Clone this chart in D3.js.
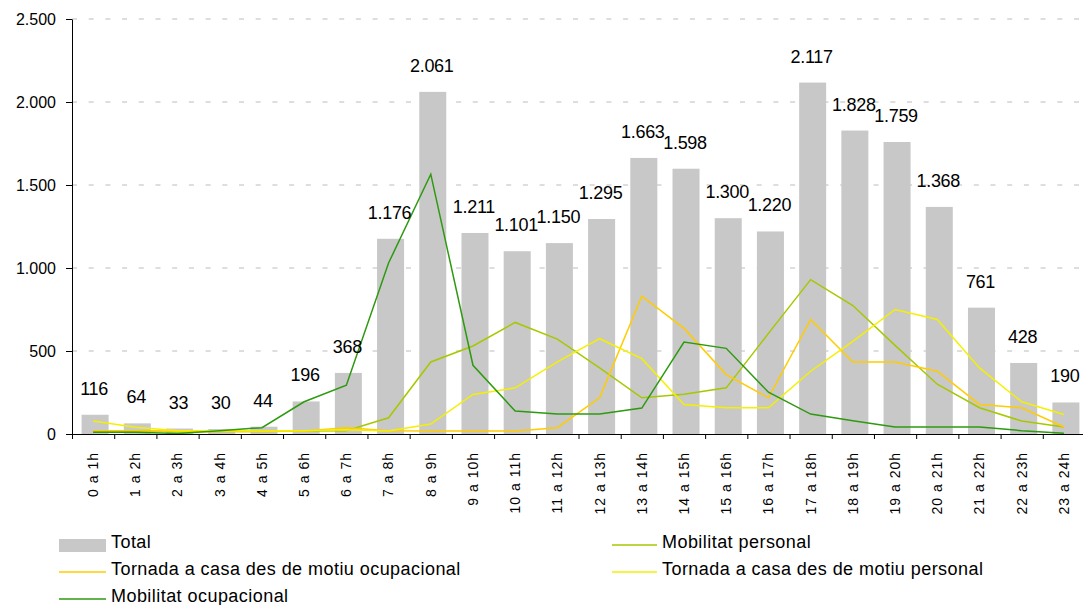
<!DOCTYPE html>
<html>
<head>
<meta charset="utf-8">
<script src="https://cdn.jsdelivr.net/npm/d3@7"></script>
<style>
    body { margin: 0; background: #fff; }
    svg { display: block; font-family: "Liberation Sans", Arial, sans-serif; }
</style>
</head>
<body>
<svg id="chart" width="1083" height="605"></svg>
<script>
// categories
const hores = ["0 a 1h", "1 a 2h", "2 a 3h", "3 a 4h", "4 a 5h", "5 a 6h", "6 a 7h", "7 a 8h",
    "8 a 9h", "9 a 10h", "10 a 11h", "11 a 12h", "12 a 13h", "13 a 14h", "14 a 15h", "15 a 16h",
    "16 a 17h", "17 a 18h", "18 a 19h", "19 a 20h", "20 a 21h", "21 a 22h", "22 a 23h", "23 a 24h"];

// series
const total = [116, 64, 33, 30, 44, 196, 368, 1176, 2061, 1211, 1101, 1150, 1295, 1663, 1598, 1300,
    1220, 2117, 1828, 1759, 1368, 761, 428, 190];
const mobilitatPersonal = [18, 18, 15, 15, 15, 18, 20, 98, 434, 530, 672, 572, 398, 218, 240, 278,
    606, 930, 774, 534, 300, 158, 78, 42];
const tornadaOcupacional = [20, 20, 15, 15, 15, 18, 38, 20, 18, 18, 18, 38, 218, 830, 636, 358,
    218, 690, 434, 434, 378, 178, 158, 42];
const tornadaPersonal = [78, 40, 20, 20, 18, 20, 25, 18, 60, 238, 278, 434, 574, 454, 178, 158,
    158, 378, 558, 750, 690, 398, 194, 118];
const mobilitatOcupacional = [10, 10, 3, 20, 38, 194, 294, 1030, 1565, 414, 138, 120, 120, 156, 554, 516,
    252, 120, 80, 42, 42, 42, 20, 5];

// y ticks
const yTicks = [0, 500, 1000, 1500, 2000, 2500];

const series = [
    {name: "Mobilitat personal", values: mobilitatPersonal, color: "#a6c800"},
    {name: "Tornada a casa des de motiu ocupacional", values: tornadaOcupacional, color: "#ffcc00"},
    {name: "Tornada a casa des de motiu personal", values: tornadaPersonal, color: "#f5f000"},
    {name: "Mobilitat ocupacional", values: mobilitatOcupacional, color: "#2e9a10"}
];

const mLeft = 72, mRight = 1085, mTop = 19, mBottom = 434;
const svg = d3.select('#chart');

const x = d3.scaleBand().domain(hores).range([mLeft, mRight]).paddingInner(0.36).paddingOuter(0.18);
const xb = d3.scaleLinear().domain([0, hores.length]).range([mLeft, mRight]);
const y = d3.scaleLinear().domain([0, 2500]).range([mBottom, mTop]);
const cx = (d, i) => x(hores[i]) + x.bandwidth() / 2;

const loc = d3.formatLocale({decimal: ",", thousands: ".", grouping: [3], currency: ["", ""]});
const fmt = loc.format(",d");

// grid
svg.append('g')
    .selectAll('line')
    .data(yTicks.filter(d => d > 0))
    .join('line')
    .attr('x1', mLeft).attr('x2', mRight)
    .attr('y1', y).attr('y2', y)
    .attr('stroke', '#bcbcbc')
    .attr('stroke-dasharray', '5,11.7');

// bars (sit a touch right of the line points, like the original)
svg.append('g')
    .selectAll('rect')
    .data(total)
    .join('rect')
    .attr('x', (d, i) => x(hores[i]) + 2)
    .attr('y', d => y(d))
    .attr('width', x.bandwidth())
    .attr('height', d => y(0) - y(d))
    .attr('fill', '#c8c8c8');

// lines
const lineFun = d3.line().x(cx).y(d => y(d));
svg.append('g')
    .selectAll('path')
    .data(series)
    .join('path')
    .attr('d', s => lineFun(s.values))
    .attr('fill', 'none')
    .attr('stroke', s => s.color)
    .attr('stroke-width', 1.5);

// bar labels
svg.append('g')
    .selectAll('text')
    .data(total)
    .join('text')
    .attr('x', (d, i) => cx(d, i) + 1)
    .attr('y', d => y(d) - 20)
    .attr('text-anchor', 'middle')
    .style('font-size', '18px')
    .style('letter-spacing', '-0.3px')
    .style('fill', '#000')
    .text(d => fmt(d));

// y axis
const gy = svg.append('g')
    .attr('transform', `translate(${mLeft},0)`)
    .call(d3.axisLeft(y).tickValues(yTicks).tickFormat(fmt).tickSize(6).tickSizeOuter(0).tickPadding(10));
gy.selectAll('text').style('font-size', '16px').style('font-family', '"Liberation Sans", Arial, sans-serif').attr('fill', '#000');
gy.selectAll('line, path').attr('stroke', '#000');

// x axis with ticks between categories
const gx = svg.append('g')
    .attr('transform', `translate(0,${mBottom})`)
    .call(d3.axisBottom(xb).tickValues(d3.range(hores.length + 1)).tickFormat('').tickSize(5).tickSizeOuter(0));
gx.selectAll('line, path').attr('stroke', '#000');

svg.append('g')
    .selectAll('text')
    .data(hores)
    .join('text')
    .attr('transform', (d, i) => `translate(${cx(d, i)},452) rotate(-90)`)
    .attr('text-anchor', 'end')
    .attr('dy', '0.35em')
    .style('font-size', '14px')
    .style('letter-spacing', '1px')
    .style('fill', '#000')
    .text(d => d);

// legend
const legendItems = [
    {name: "Total", type: 'bar', color: '#c8c8c8', x: 59, y: 548},
    {name: series[0].name, type: 'line', color: series[0].color, x: 612, y: 548},
    {name: series[1].name, type: 'line', color: series[1].color, x: 59, y: 575},
    {name: series[2].name, type: 'line', color: series[2].color, x: 612, y: 575},
    {name: series[3].name, type: 'line', color: series[3].color, x: 59, y: 602}
];
const lg = svg.append('g')
    .selectAll('g')
    .data(legendItems)
    .join('g')
    .attr('transform', d => `translate(${d.x},${d.y})`);
lg.filter(d => d.type === 'bar').append('rect')
    .attr('x', 0).attr('y', -9).attr('width', 47).attr('height', 13)
    .attr('fill', d => d.color);
lg.filter(d => d.type === 'line').append('line')
    .attr('x1', 0).attr('x2', d => d.x > 300 ? 45 : 47).attr('y1', -3).attr('y2', -3)
    .attr('stroke', d => d.color).attr('stroke-width', 1.5);
lg.append('text')
    .attr('x', d => d.x > 300 ? 50 : 52)
    .style('font-size', '18px')
    .style('letter-spacing', '0.45px')
    .style('fill', '#000')
    .text(d => d.name);
</script>
</body>
</html>
